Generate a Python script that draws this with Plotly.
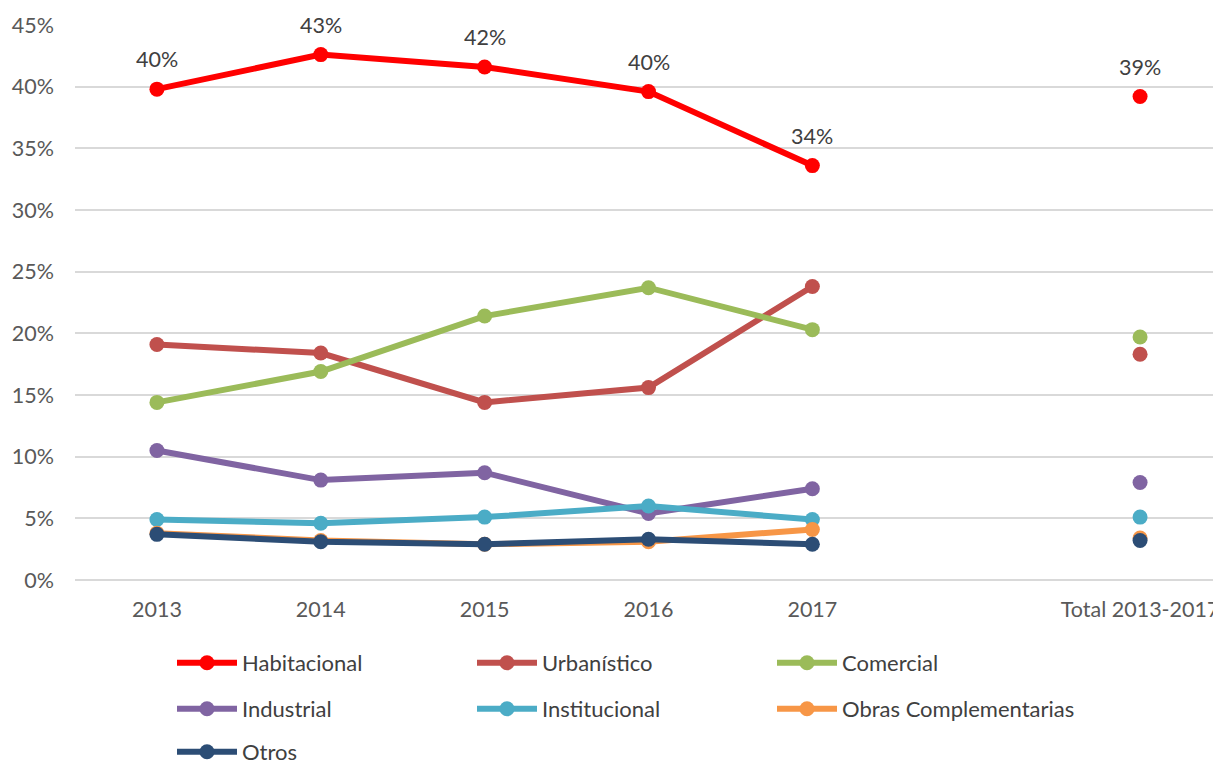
import plotly.graph_objects as go

categories = ["2013", "2014", "2015", "2016", "2017", " ", "Total 2013-2017"]

habitacional = [39.8, 42.6, 41.6, 39.6, 33.6, None, 39.2]
urbanistico = [19.1, 18.4, 14.4, 15.6, 23.8, None, 18.3]
comercial = [14.4, 16.9, 21.4, 23.7, 20.3, None, 19.7]
industrial = [10.5, 8.1, 8.7, 5.4, 7.4, None, 7.9]
institucional = [4.9, 4.6, 5.1, 6.0, 4.9, None, 5.1]
obras = [3.8, 3.2, 2.9, 3.1, 4.1, None, 3.4]
otros = [3.7, 3.1, 2.9, 3.3, 2.9, None, 3.2]

series = [
    ("Habitacional", habitacional, "#FF0000", "legend"),
    ("Urbanístico", urbanistico, "#C0504D", "legend"),
    ("Comercial", comercial, "#9BBB59", "legend"),
    ("Industrial", industrial, "#8064A2", "legend2"),
    ("Institucional", institucional, "#4BACC6", "legend2"),
    ("Obras Complementarias", obras, "#F79646", "legend4"),
    ("Otros", otros, "#2C4D75", "legend3"),
]

FONT = "Lato"
TICK = 21.5
fig = go.Figure()
for name, vals, color, leg in series:
    fig.add_trace(go.Scatter(
        x=categories, y=[v / 100 if v is not None else None for v in vals],
        name=name, mode="lines+markers", connectgaps=False,
        line=dict(color=color, width=6),
        marker=dict(color=color, size=15),
        legend=leg,
    ))

for i, v in enumerate(habitacional):
    if v is None:
        continue
    fig.add_annotation(x=i, y=v / 100, text=f"{round(v)}%", showarrow=False,
                       yshift=30, font=dict(family=FONT, size=TICK, color="#404040"))

# figure coordinates (page body adds an 8px offset)
top = 17
bottom = 572
left = 67
right = 1214
H = bottom - top
W = right - left

def py(pix_img):
    return (bottom - (pix_img - 8)) / H

def px(pix_fig):
    return (pix_fig - left) / W

def leg_style(entry_w):
    return dict(orientation="h", xanchor="left", yanchor="middle",
                entrywidth=entry_w, entrywidthmode="pixels",
                font=dict(family=FONT, size=22, color="#404040"),
                bgcolor="rgba(0,0,0,0)", itemwidth=60)

fig.update_layout(
    width=1221, height=764,
    margin=dict(l=left, r=1221 - right, t=top, b=764 - bottom, autoexpand=False),
    paper_bgcolor="white", plot_bgcolor="white",
    font=dict(family=FONT, size=TICK, color="#595959"),
    xaxis=dict(type="category", categoryorder="array", categoryarray=categories,
               showgrid=False, showline=False, ticks="", zeroline=False,
               automargin=False, ticklabelstandoff=14,
               tickfont=dict(family=FONT, size=TICK, color="#595959"),
               range=[-0.5, 6.5]),
    yaxis=dict(range=[0, 0.45], dtick=0.05, tickformat=".0%",
               showgrid=True, gridcolor="#D9D9D9", gridwidth=2,
               zeroline=True, zerolinecolor="#D9D9D9", zerolinewidth=2,
               showline=False, ticks="", automargin=False,
               ticklabelstandoff=20,
               tickfont=dict(family=FONT, size=TICK, color="#595959")),
    showlegend=True,
    legend=dict(x=px(164), y=py(663), **leg_style(225)),
    legend2=dict(x=px(164), y=py(709), **leg_style(225)),
    legend4=dict(x=px(764), y=py(709), **leg_style(270)),
    legend3=dict(x=px(164), y=py(752), **leg_style(225)),
)

fig.write_html("out.html")
